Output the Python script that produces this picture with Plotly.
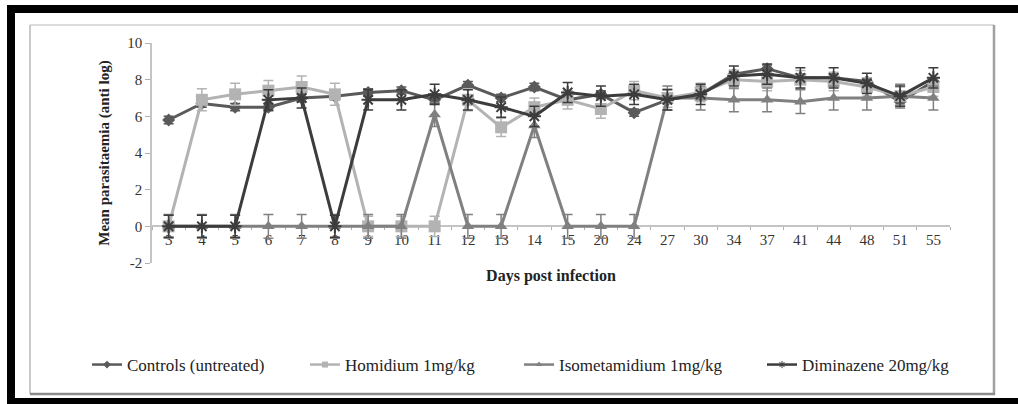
import plotly.graph_objects as go

# Days post infection (category axis)
days = ["3", "4", "5", "6", "7", "8", "9", "10", "11", "12", "13", "14", "15",
        "20", "24", "27", "30", "34", "37", "41", "44", "48", "51", "55"]

# Mean parasitaemia (anti log) per group
controls = [5.8, 6.7, 6.5, 6.5, 7.0, 7.1, 7.3, 7.4, 6.9, 7.7, 7.0, 7.6, 6.9,
            7.2, 6.2, 6.9, 7.2, 8.3, 8.6, 8.1, 8.1, 7.9, 6.8, 7.9]
homidium = [0.0, 6.9, 7.2, 7.4, 7.6, 7.2, 0.0, 0.0, 0.0, 6.9, 5.4, 6.5, 6.9,
            6.4, 7.4, 7.0, 7.3, 8.0, 7.9, 8.0, 7.9, 7.6, 7.1, 7.6]
isometamidium = [0.0, 0.0, 0.0, 0.0, 0.0, 0.0, 0.0, 0.0, 6.1, 0.0, 0.0, 5.5, 0.0,
                 0.0, 0.0, 7.0, 7.0, 6.9, 6.9, 6.8, 7.0, 7.0, 7.1, 7.0]
diminazene = [0.0, 0.0, 0.0, 6.9, 7.0, 0.0, 6.9, 6.9, 7.2, 6.9, 6.5, 6.0, 7.3,
              7.1, 7.2, 6.9, 7.2, 8.2, 8.3, 8.1, 8.1, 7.8, 7.1, 8.1]

# Standard errors
controls_err = [0.2, 0.2, 0.2, 0.2, 0.2, 0.2, 0.2, 0.2, 0.2, 0.2, 0.2, 0.2, 0.2,
                0.2, 0.2, 0.2, 0.2, 0.2, 0.2, 0.2, 0.2, 0.2, 0.2, 0.2]
homidium_err = [0.6, 0.6, 0.6, 0.55, 0.6, 0.6, 0.55, 0.55, 0.55, 0.6, 0.5, 0.5, 0.5,
                0.5, 0.5, 0.5, 0.5, 0.5, 0.5, 0.5, 0.5, 0.5, 0.5, 0.5]
isometamidium_err = [0.65, 0.65, 0.65, 0.65, 0.65, 0.65, 0.65, 0.65, 0.65, 0.65, 0.65, 0.65, 0.65,
                     0.65, 0.65, 0.65, 0.65, 0.65, 0.65, 0.65, 0.65, 0.65, 0.65, 0.65]
diminazene_err = [0.6, 0.6, 0.6, 0.55, 0.55, 0.6, 0.55, 0.55, 0.55, 0.55, 0.55, 0.55, 0.55,
                  0.55, 0.55, 0.55, 0.55, 0.55, 0.55, 0.55, 0.55, 0.55, 0.55, 0.55]

# y-axis ticks
y_ticks = [-2, 0, 2, 4, 6, 8, 10]
y_tick_text = ["-2", "0", "2", "4", "6", "8", "10"]

series = [
    ("Controls (untreated)", controls, controls_err, "#5a5a5a", "diamond", 10, 0, "legend"),
    ("Homidium 1mg/kg", homidium, homidium_err, "#b3b3b3", "square", 12, 0, "legend2"),
    ("Isometamidium 1mg/kg", isometamidium, isometamidium_err, "#808080", "triangle-up", 11, 0, "legend3"),
    ("Diminazene 20mg/kg", diminazene, diminazene_err, "#3c3c3c", "asterisk-open", 11, 2, "legend4"),
]

FONT = "Liberation Serif, Times New Roman, serif"

# plot-area geometry in pixels (used to place frame and legends)
L, T, W, H = 152, 43, 798, 220
FIG_W, FIG_H = 1018, 404


def px(x):
    return (x - L) / W


def py(y):
    return 1 - (y - T) / H


fig = go.Figure()

for name, vals, err, color, symbol, size, lw, leg in series:
    fig.add_trace(go.Scatter(
        x=days, y=vals, name=name, mode="lines+markers",
        line=dict(color=color, width=3),
        marker=dict(symbol=symbol, size=size, color=color,
                    line=dict(color=color, width=lw)),
        error_y=dict(type="data", array=err, color=color, thickness=1.5, width=5),
        showlegend=False,
    ))

# legend entries with small markers
for name, vals, err, color, symbol, size, lw, leg in series:
    fig.add_trace(go.Scatter(
        x=[None], y=[None], name=name, mode="lines+markers",
        line=dict(color=color, width=2.5),
        marker=dict(symbol=symbol, size=6, color=color,
                    line=dict(color=color, width=1 if lw else 0)),
        legend=leg, showlegend=True,
    ))

legend_text_x = [128, 346, 560, 803]
legend_common = dict(
    orientation="h", yanchor="middle", xanchor="left",
    font=dict(family=FONT, size=17, color="#222"),
    bgcolor="rgba(0,0,0,0)", borderwidth=0,
)
legends = {}
for i, key in enumerate(["legend", "legend2", "legend3", "legend4"]):
    legends[key] = dict(legend_common, x=px(legend_text_x[i] - 41), y=py(365))

shapes = []
# black outer frame
for x0, y0, x1, y1 in [(7, 5, 1018, 13), (7, 5, 15, 404), (7, 398, 1018, 404)]:
    shapes.append(dict(type="rect", xref="paper", yref="paper",
                       x0=px(x0), x1=px(x1), y0=py(y1), y1=py(y0),
                       fillcolor="black", line=dict(width=0)))
# grey chart box
for x0, y0, x1, y1, c, w in [
    (30, 25, 994, 25, "#d0d0d0", 1.5),
    (30, 25, 30, 394, "#b8b8b8", 1.5),
    (994, 25, 994, 395, "#a0a0a0", 2.5),
    (30, 394, 995, 394, "#8c8c8c", 2.5),
]:
    shapes.append(dict(type="line", xref="paper", yref="paper",
                       x0=px(x0), x1=px(x1), y0=py(y0), y1=py(y1),
                       line=dict(color=c, width=w)))

fig.update_layout(
    width=FIG_W, height=FIG_H,
    margin=dict(l=L, r=FIG_W - L - W, t=T, b=FIG_H - T - H, pad=0),
    paper_bgcolor="white", plot_bgcolor="white",
    font=dict(family=FONT, color="#333"),
    shapes=shapes,
    **legends,
    xaxis=dict(
        type="category", range=[-0.5, len(days) - 0.5],
        anchor="free", position=2 / 12,
        showline=True, linecolor="#c4c4c4", linewidth=1.5,
        ticks="outside", tickson="boundaries", ticklen=3, tickcolor="#b0b0b0",
        tickfont=dict(family=FONT, size=15, color="#333"),
        showgrid=False, zeroline=False, layer="below traces",
        title=dict(text="<b>Days post infection</b>", standoff=22,
                   font=dict(family=FONT, size=16, color="#222")),
    ),
    yaxis=dict(
        range=[-2, 10], tickmode="array", tickvals=y_ticks, ticktext=y_tick_text,
        showline=True, linecolor="#c4c4c4", linewidth=1.5,
        ticks="outside", ticklen=5, tickcolor="#b0b0b0",
        tickfont=dict(family=FONT, size=15, color="#333"),
        showgrid=False, zeroline=False,
        title=dict(text="<b>Mean parasitaemia (anti log)</b>", standoff=14,
                   font=dict(family=FONT, size=15, color="#222")),
    ),
)

fig.write_html("out.html")
